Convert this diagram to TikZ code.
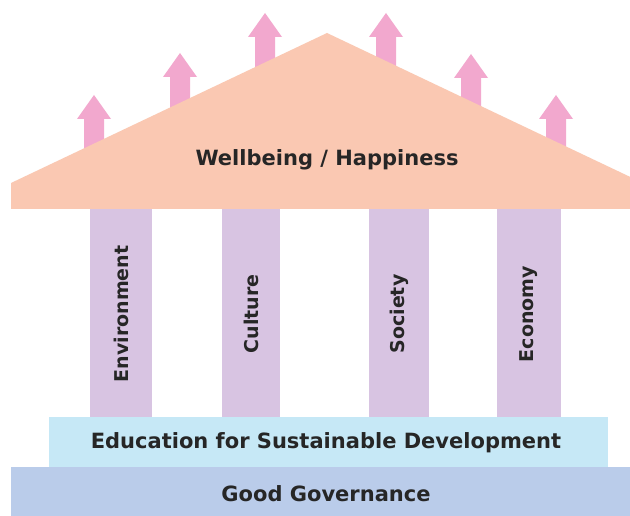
\documentclass[tikz,border=0pt]{standalone}
\usepackage{fontspec}
\setmainfont{DejaVu Sans}
\definecolor{roofpeach}{HTML}{FAC8B2}
\definecolor{arrowpink}{HTML}{F2A8CE}
\definecolor{pillarlav}{HTML}{D8C4E2}
\definecolor{edsblue}{HTML}{C6E8F6}
\definecolor{govblue}{HTML}{BACCEA}
\definecolor{textgray}{HTML}{262626}
\begin{document}
\begin{tikzpicture}[x=1pt,y=-1pt,
  uparrow/.style={fill=arrowpink},
  roofshape/.style={fill=roofpeach},
  pillar/.style={fill=pillarlav, draw=none, rotate=90, inner sep=0pt,
    minimum width=210pt, text=textgray, font=\bfseries\fontsize{19}{22}\selectfont},
  barshape/.style={draw=none},
  lbl/.style={font=\bfseries\fontsize{21}{24}\selectfont, text=textgray, inner sep=0pt}]
\useasboundingbox (0,0) rectangle (630,516);
\clip (0,0) rectangle (630,516);
\fill[white] (0,0) rectangle (630,516);
% arrows
\foreach \x/\t in {94/95,180/53,265/13,386/13,471/54,556/95}
  \fill[uparrow] (\x,\t) -- (\x+17,\t+24) -- (\x+10,\t+24) -- (\x+10,200)
     -- (\x-10,200) -- (\x-10,\t+24) -- (\x-17,\t+24) -- cycle;
% pillars
\node[pillar, minimum height=62pt] (env) at (121,314) {Environment};
\node[pillar, minimum height=58pt] (cul) at (251,314) {Culture};
\node[pillar, minimum height=60pt] (soc) at (399,314) {Society};
\node[pillar, minimum height=64pt] (eco) at (529,314) {Economy};
% roof
\fill[roofshape] (11,209) -- (11,183) -- (327,33) -- (643,183) -- (643,209) -- cycle;
\node[lbl] (well) at (327,160) {Wellbeing / Happiness};
% base bars
\fill[edsblue] (49,417) rectangle (608,468);
\node[lbl] (eds) at (326,443) {Education for Sustainable Development};
\fill[govblue] (11,467) rectangle (630,516);
\node[lbl] (gov) at (326,494) {Good Governance};
\end{tikzpicture}
\end{document}
